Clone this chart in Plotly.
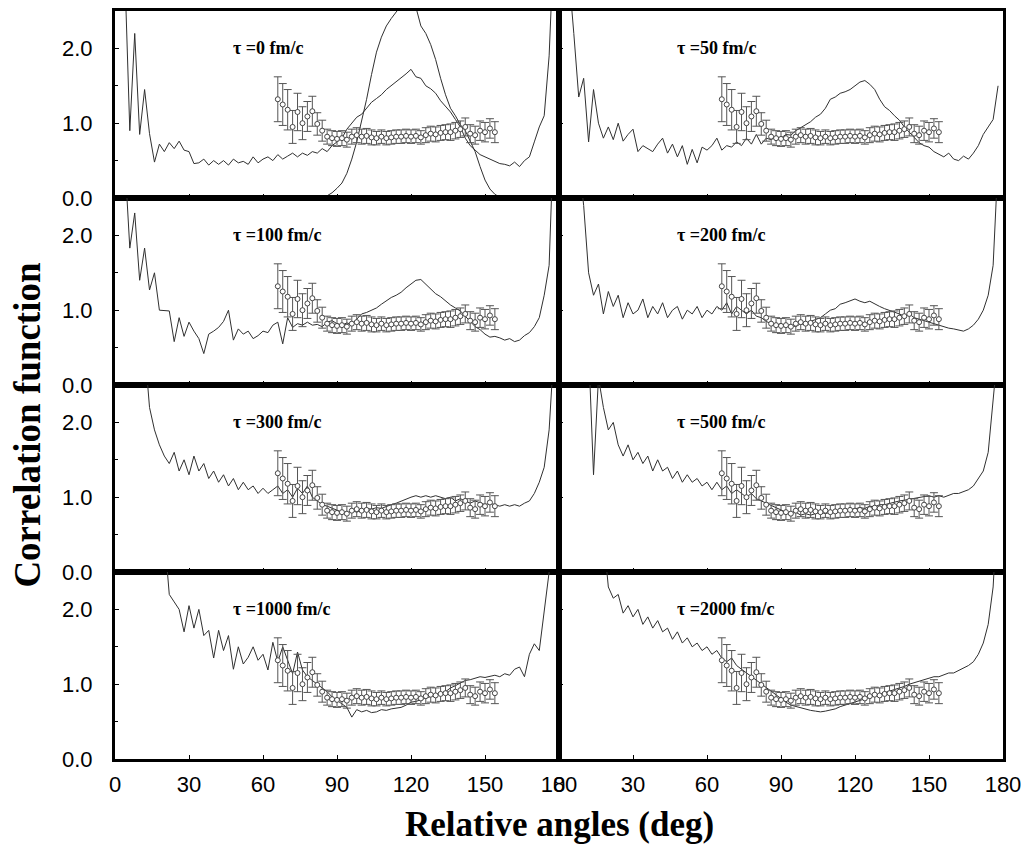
import plotly.graph_objects as go

angles = [2, 4, 6, 8, 10, 12, 14, 16, 18, 20,
          22, 24, 26, 28, 30, 32, 34, 36, 38, 40,
          42, 44, 46, 48, 50, 52, 54, 56, 58, 60,
          62, 64, 66, 68, 70, 72, 74, 76, 78, 80,
          82, 84, 86, 88, 90, 92, 94, 96, 98, 100,
          102, 104, 106, 108, 110, 112, 114, 116, 118, 120,
          122, 124, 126, 128, 130, 132, 134, 136, 138, 140,
          142, 144, 146, 148, 150, 152, 154, 156, 158, 160,
          162, 164, 166, 168, 170, 172, 174, 176, 178]

model_t0 = [3.5, 3.0, 0.9, 2.2, 0.85, 1.45, 0.86, 0.48, 0.72, 0.62,
            0.74, 0.66, 0.76, 0.64, 0.62, 0.46, 0.47, 0.52, 0.44, 0.50,
            0.45, 0.50, 0.44, 0.52, 0.47, 0.49, 0.45, 0.55, 0.47, 0.52,
            0.55, 0.50, 0.58, 0.52, 0.56, 0.60, 0.55, 0.60, 0.57, 0.62,
            0.60, 0.66, 0.62, 0.70, 0.75, 0.80, 0.92, 1.00, 1.08, 1.12,
            1.20, 1.28, 1.33, 1.38, 1.45, 1.50, 1.55, 1.60, 1.66, 1.72,
            1.62, 1.60, 1.50, 1.46, 1.40, 1.30, 1.22, 1.15, 1.05, 0.95,
            0.80, 0.70, 0.64, 0.58, 0.55, 0.52, 0.48, 0.46, 0.45, 0.43,
            0.48, 0.42, 0.50, 0.55, 0.75, 0.95, 1.10, 1.90, 3.5]

model_t50 = [3.5, 3.0, 2.2, 1.35, 1.6, 0.75, 1.45, 1.0, 0.8, 0.95,
             0.78, 1.0, 0.76, 0.85, 0.92, 0.62, 0.70, 0.66, 0.62, 0.72,
             0.80, 0.60, 0.72, 0.55, 0.70, 0.45, 0.65, 0.47, 0.68, 0.64,
             0.70, 0.80, 0.64, 0.70, 0.68, 0.75, 0.70, 0.80, 0.72, 0.85,
             0.72, 0.80, 0.78, 0.82, 0.80, 0.85, 0.84, 0.90, 0.94, 0.98,
             1.02, 1.08, 1.12, 1.20, 1.32, 1.35, 1.40, 1.42, 1.45, 1.50,
             1.55, 1.57, 1.52, 1.45, 1.32, 1.22, 1.17, 1.10, 1.04, 0.95,
             0.88, 0.80, 0.74, 0.70, 0.68, 0.62, 0.58, 0.55, 0.60, 0.52,
             0.50, 0.56, 0.52, 0.60, 0.70, 0.85, 0.95, 1.05, 1.5]

model_t100 = [3.5, 3.0, 1.83, 2.3, 1.4, 1.83, 1.27, 1.5, 1.0, 1.0,
              0.99, 0.58, 0.90, 0.65, 0.84, 0.72, 0.62, 0.42, 0.68, 0.72,
              0.77, 0.85, 1.0, 0.60, 0.75, 0.68, 0.72, 0.62, 0.66, 0.72,
              0.70, 0.80, 0.84, 0.55, 0.90, 0.77, 0.82, 0.80, 0.84, 0.80,
              0.81, 0.78, 0.84, 0.86, 0.82, 0.80, 0.83, 0.81, 0.88, 0.95,
              0.97, 1.00, 1.03, 1.08, 1.13, 1.17, 1.20, 1.24, 1.30, 1.35,
              1.40, 1.41, 1.35, 1.28, 1.22, 1.18, 1.12, 1.07, 1.03, 0.99,
              0.92, 0.85, 0.78, 0.74, 0.68, 0.64, 0.65, 0.63, 0.60, 0.62,
              0.58, 0.60, 0.66, 0.70, 0.78, 0.90, 1.20, 1.60, 3.5]

model_t200 = [3.5, 3.5, 3.5, 3.0, 2.4, 1.5, 1.2, 1.35, 0.95, 1.25,
              1.05, 1.20, 0.90, 1.10, 0.95, 1.00, 1.15, 0.90, 1.05, 0.95,
              1.10, 0.90, 1.00, 1.05, 0.88, 1.00, 0.95, 1.05, 0.90, 1.00,
              0.95, 1.05, 1.00, 1.10, 0.95, 1.05, 1.00, 0.95, 1.00, 0.92,
              0.90, 0.85, 0.82, 0.80, 0.82, 0.78, 0.80, 0.78, 0.82, 0.80,
              0.85, 0.88, 0.90, 0.95, 1.00, 1.02, 1.08, 1.10, 1.12, 1.15,
              1.12, 1.10, 1.12, 1.08, 1.05, 1.02, 1.00, 0.98, 0.95, 0.92,
              0.95, 0.90, 0.88, 0.86, 0.84, 0.82, 0.80, 0.78, 0.76, 0.75,
              0.74, 0.72, 0.75, 0.80, 0.88, 1.00, 1.20, 1.60, 3.0]

model_t300 = [3.5, 3.5, 3.5, 3.5, 3.5, 3.0, 2.2, 1.9, 1.7, 1.55,
              1.45, 1.60, 1.35, 1.50, 1.30, 1.55, 1.35, 1.45, 1.25, 1.35,
              1.20, 1.30, 1.15, 1.25, 1.10, 1.20, 1.10, 1.15, 1.05, 1.12,
              1.05, 1.10, 1.15, 1.05, 1.10, 1.00, 1.12, 1.05, 1.15, 1.00,
              0.95, 0.90, 0.88, 0.85, 0.82, 0.80, 0.78, 0.82, 0.80, 0.82,
              0.85, 0.84, 0.86, 0.85, 0.88, 0.90, 0.92, 0.95, 0.98, 1.00,
              1.02, 1.00, 1.02, 1.00, 1.02, 1.00, 0.98, 1.00, 0.95, 0.98,
              0.95, 0.92, 0.95, 0.92, 0.90, 0.92, 0.90, 0.88, 0.90, 0.88,
              0.90, 0.88, 0.92, 0.95, 1.05, 1.20, 1.40, 1.90, 3.0]

model_t500 = [3.5, 3.5, 3.5, 3.5, 3.5, 3.0, 1.3, 2.6, 2.2, 1.9,
              2.0, 1.70, 1.55, 1.70, 1.50, 1.60, 1.45, 1.55, 1.35, 1.50,
              1.35, 1.40, 1.25, 1.35, 1.20, 1.30, 1.20, 1.25, 1.15, 1.20,
              1.10, 1.20, 1.10, 1.15, 1.05, 1.10, 1.05, 1.00, 1.05, 0.98,
              0.95, 0.92, 0.88, 0.85, 0.82, 0.80, 0.78, 0.80, 0.76, 0.78,
              0.76, 0.78, 0.80, 0.78, 0.80, 0.82, 0.80, 0.84, 0.83, 0.85,
              0.86, 0.85, 0.88, 0.87, 0.90, 0.90, 0.92, 0.93, 0.95, 0.96,
              0.97, 0.98, 1.00, 1.00, 1.02, 1.00, 1.02, 1.00, 1.03, 1.05,
              1.05, 1.08, 1.10, 1.15, 1.25, 1.35, 1.60, 2.20, 3.0]

model_t1000 = [3.5, 3.5, 3.5, 3.5, 3.5, 3.5, 3.5, 3.5, 3.5, 3.0,
               2.20, 2.10, 2.00, 1.70, 2.05, 1.75, 2.00, 1.65, 1.72, 1.35,
               1.72, 1.45, 1.65, 1.20, 1.50, 1.27, 1.36, 1.50, 1.32, 1.40,
               1.19, 1.56, 1.30, 1.50, 1.32, 1.14, 1.43, 1.19, 1.10, 1.05,
               1.00, 0.96, 0.90, 0.83, 0.78, 0.74, 0.69, 0.56, 0.66, 0.63,
               0.65, 0.62, 0.63, 0.66, 0.65, 0.67, 0.68, 0.69, 0.72, 0.76,
               0.77, 0.79, 0.81, 0.83, 0.86, 0.88, 0.90, 0.95, 0.98, 1.02,
               1.05, 1.06, 1.08, 1.10, 1.09, 1.10, 1.12, 1.10, 1.14, 1.12,
               1.20, 1.23, 1.10, 1.40, 1.54, 1.45, 1.95, 2.50, 3.5]

model_t2000 = [3.5, 3.5, 3.5, 3.5, 3.5, 3.5, 3.5, 3.5, 3.0, 2.3,
               2.15, 2.20, 1.95, 2.05, 1.90, 2.00, 1.80, 1.90, 1.75, 1.85,
               1.70, 1.75, 1.60, 1.70, 1.55, 1.62, 1.50, 1.55, 1.45, 1.50,
               1.40, 1.45, 1.35, 1.30, 1.35, 1.25, 1.20, 1.15, 1.10, 1.05,
               1.00, 0.95, 0.90, 0.85, 0.80, 0.76, 0.72, 0.70, 0.68, 0.66,
               0.65, 0.64, 0.63, 0.64, 0.65, 0.67, 0.70, 0.72, 0.74, 0.76,
               0.78, 0.80, 0.82, 0.84, 0.86, 0.88, 0.90, 0.93, 0.95, 0.97,
               1.00, 1.02, 1.04, 1.06, 1.08, 1.10, 1.10, 1.12, 1.15, 1.15,
               1.18, 1.22, 1.25, 1.30, 1.40, 1.55, 1.80, 2.30, 3.5]

# second (smooth) curve shown only in the tau = 0 panel
smooth_angles = [80, 82, 84, 86, 88, 90, 92, 94, 96, 98,
                 100, 102, 104, 106, 108, 110, 112, 114, 116, 118,
                 120, 122, 124, 126, 128, 130, 132, 134, 136, 138,
                 140, 142, 144, 146, 148, 150, 152, 154, 156, 158]
smooth_t0 = [0.0, 0.0, 0.01, 0.03, 0.07, 0.13, 0.20, 0.33, 0.52, 0.75,
             1.02, 1.32, 1.65, 1.95, 2.15, 2.30, 2.40, 2.48, 2.58, 2.66,
             2.70, 2.55, 2.30, 2.20, 2.05, 1.85, 1.60, 1.38, 1.20, 1.10,
             0.98, 0.90, 0.76, 0.62, 0.42, 0.24, 0.12, 0.05, 0.01, 0.0]

# experimental data (same in every panel)
exp_angles = [66, 68, 70, 72, 74, 76, 78, 80, 82, 84,
              86, 88, 90, 92, 94, 96, 98, 100, 102, 104,
              106, 108, 110, 112, 114, 116, 118, 120, 122, 124,
              126, 128, 130, 132, 134, 136, 138, 140, 142, 144,
              146, 148, 150, 152, 154]
exp_values = [1.32, 1.25, 1.18, 0.95, 1.15, 1.00, 1.09, 1.16, 0.99, 0.90,
              0.82, 0.80, 0.79, 0.80, 0.78, 0.82, 0.84, 0.82, 0.83, 0.81,
              0.80, 0.82, 0.80, 0.81, 0.82, 0.82, 0.83, 0.82, 0.83, 0.81,
              0.84, 0.86, 0.85, 0.87, 0.88, 0.88, 0.90, 0.92, 0.95, 0.86,
              0.84, 0.90, 0.88, 0.93, 0.88]
exp_errors = [0.30, 0.28, 0.27, 0.22, 0.25, 0.22, 0.20, 0.20, 0.15, 0.14,
              0.10, 0.10, 0.10, 0.10, 0.10, 0.10, 0.10, 0.10, 0.10, 0.10,
              0.09, 0.09, 0.09, 0.09, 0.09, 0.09, 0.09, 0.09, 0.09, 0.09,
              0.10, 0.10, 0.10, 0.10, 0.10, 0.11, 0.11, 0.11, 0.12, 0.12,
              0.12, 0.13, 0.13, 0.13, 0.14]

panel_labels = ["τ =0 fm/c", "τ =50 fm/c", "τ =100 fm/c", "τ =200 fm/c",
                "τ =300 fm/c", "τ =500 fm/c", "τ =1000 fm/c", "τ =2000 fm/c"]
panel_models = [model_t0, model_t50, model_t100, model_t200,
                model_t300, model_t500, model_t1000, model_t2000]

x_ticks = [0, 30, 60, 90, 120, 150, 180]
y_ticks = [0, 1, 2]
y_ticktext = ["0.0", "1.0", "2.0"]

fig = go.Figure()
line_col = "#303030"
err_col = "#555555"

for i in range(8):
    ax = "" if i == 0 else str(i + 1)
    xa, ya = "x" + ax, "y" + ax
    fig.add_trace(go.Scatter(x=angles, y=panel_models[i], mode="lines",
                             line=dict(color=line_col, width=1),
                             xaxis=xa, yaxis=ya, showlegend=False))
    if i == 0:
        fig.add_trace(go.Scatter(x=smooth_angles, y=smooth_t0, mode="lines",
                                 line=dict(color=line_col, width=1),
                                 xaxis=xa, yaxis=ya, showlegend=False))
    fig.add_trace(go.Scatter(x=exp_angles, y=exp_values, mode="markers",
                             marker=dict(symbol="circle", size=5,
                                         color="white", line=dict(width=1, color="#444444")),
                             error_y=dict(type="data", array=exp_errors,
                                          color=err_col, thickness=1, width=4),
                             xaxis=xa, yaxis=ya, showlegend=False,
                             cliponaxis=True))

# page has an 8 px body margin, so the figure is 8 px smaller each way
layout = dict(
    width=1024, height=846,
    margin=dict(l=107, r=29, t=0, b=95),
    paper_bgcolor="white", plot_bgcolor="white",
    font=dict(family="Liberation Sans, Arial, sans-serif", size=22, color="black"),
    annotations=[],
)

for i in range(8):
    row, col = i // 2, i % 2
    ax = "" if i == 0 else str(i + 1)
    y0 = 1 - (row + 1) * 0.25
    y1 = 1 - row * 0.25
    x0, x1 = (0.0, 0.5) if col == 0 else (0.5, 1.0)
    layout["xaxis" + ax] = dict(
        domain=[x0, x1], anchor="y" + ax, range=[0, 180],
        tickvals=x_ticks, ticks="inside", ticklen=4, tickwidth=1, tickcolor="black",
        showticklabels=(row == 3), showline=True, mirror=True,
        linecolor="black", linewidth=3, showgrid=False, zeroline=False,
        ticklabelstandoff=4,
        tickfont=dict(family="Liberation Sans, Arial, sans-serif", size=22),
    )
    layout["yaxis" + ax] = dict(
        domain=[y0, y1], anchor="x" + ax, range=[0, 2.5],
        tickvals=y_ticks, ticktext=y_ticktext, ticks="inside", ticklen=4,
        tickwidth=1, tickcolor="black",
        minor=dict(tickvals=[0.5, 1.5], ticks="inside", ticklen=3, tickcolor="black"),
        showticklabels=(col == 0), showline=True, mirror=True,
        linecolor="black", linewidth=3, showgrid=False, zeroline=False,
        ticklabelstandoff=15,
        tickfont=dict(family="Liberation Sans, Arial, sans-serif", size=22),
    )
    layout["annotations"].append(dict(
        x=47, y=2.0, xref="x" + ax, yref="y" + ax, xanchor="left", yanchor="middle",
        text="<b>" + panel_labels[i] + "</b>", showarrow=False,
        font=dict(family="Liberation Serif, Times New Roman, serif", size=18, color="black"),
    ))

layout["annotations"].append(dict(
    x=-0.098, y=0.447, xref="paper", yref="paper", textangle=-90,
    xanchor="center", yanchor="middle",
    text="<b>Correlation function</b>", showarrow=False,
    font=dict(family="Liberation Serif, Times New Roman, serif", size=37, color="black"),
))
layout["annotations"].append(dict(
    x=0.5, y=-0.088, xref="paper", yref="paper",
    xanchor="center", yanchor="middle",
    text="<b>Relative angles (deg)</b>", showarrow=False,
    font=dict(family="Liberation Serif, Times New Roman, serif", size=35, color="black"),
))

fig.update_layout(**layout)
fig.write_html("out.html")
